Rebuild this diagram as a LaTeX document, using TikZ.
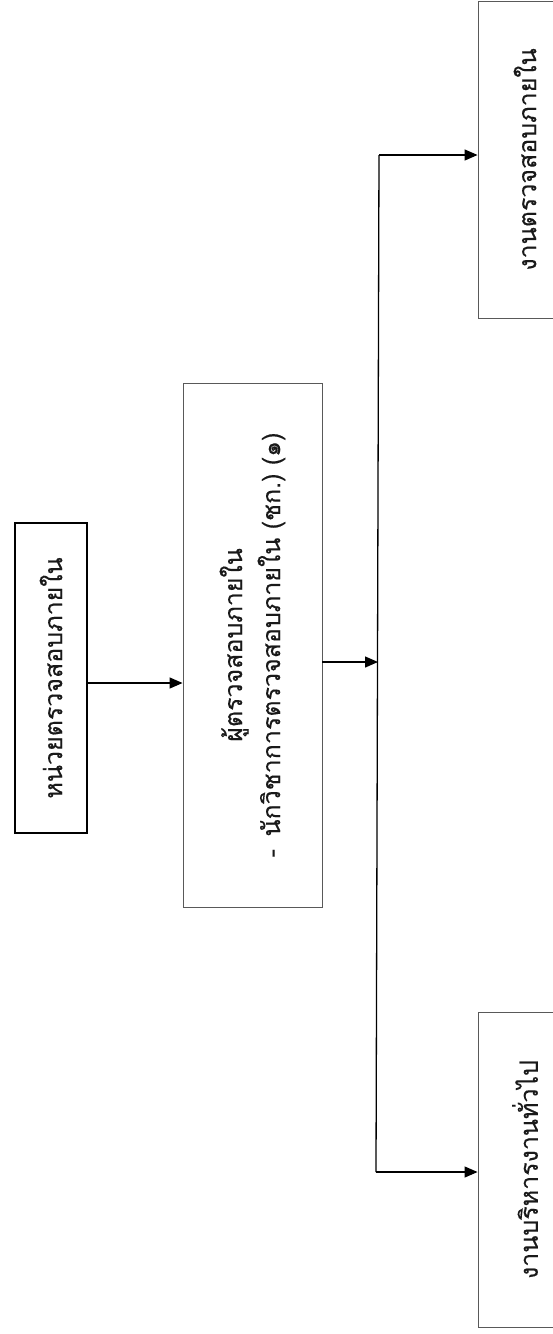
\documentclass[tikz,border=0pt]{standalone}
\usepackage{fontspec}
\newfontfamily\thaifont[Script=Thai, FakeBold=0.3]{Loma}
\usetikzlibrary{arrows.meta}
\begin{document}
\begin{tikzpicture}[x=1pt,y=-1pt,
  box/.style={draw=black!65, line width=0.9pt, rectangle, inner sep=0pt, rotate=90, align=center},
  hqbox/.style={draw=black, line width=2.8pt, rectangle, inner sep=0pt, rotate=90, align=center},
  txt/.style={font=\thaifont\fontsize{25}{38}\selectfont, text=black!90},
  conn/.style={line width=1.3pt, black},
  arr/.style={conn, -{Triangle[length=13pt,width=11pt]}}]
\useasboundingbox (0,0) rectangle (553,1334);
% boxes (node frame: width = visual height, height = visual width)
\node[hqbox, txt, minimum width=310pt, minimum height=72pt] (hq) at (51,678) {หน่วยตรวจสอบภายใน};
\node[box, txt, minimum width=524pt, minimum height=139pt] (mid) at (252.5,645)
  {ผู้ตรวจสอบภายใน\\-\enspace นักวิชาการตรวจสอบภายใน\ (ชก.)\ (๑)};
\node[box, txt, minimum width=317pt, minimum height=94pt] (audit) at (525,159.5) {งานตรวจสอบภายใน};
\node[box, txt, minimum width=315pt, minimum height=94pt] (admin) at (525,1169.5) {งานบริหารงานทั่วไป};
% trunk
\coordinate (ttop) at (379,155);
\coordinate (tmid) at (378,662);
\coordinate (tbot) at (376,1172);
\draw[conn] (ttop) -- (tbot);
% connectors
\draw[arr] (hq.south |- 0,683) -- (mid.north |- 0,683);
\draw[arr] (mid.south |- tmid) -- (tmid);
\draw[arr] (ttop) -- (ttop -| audit.north);
\draw[arr] (tbot) -- (tbot -| admin.north);
\end{tikzpicture}
\end{document}
